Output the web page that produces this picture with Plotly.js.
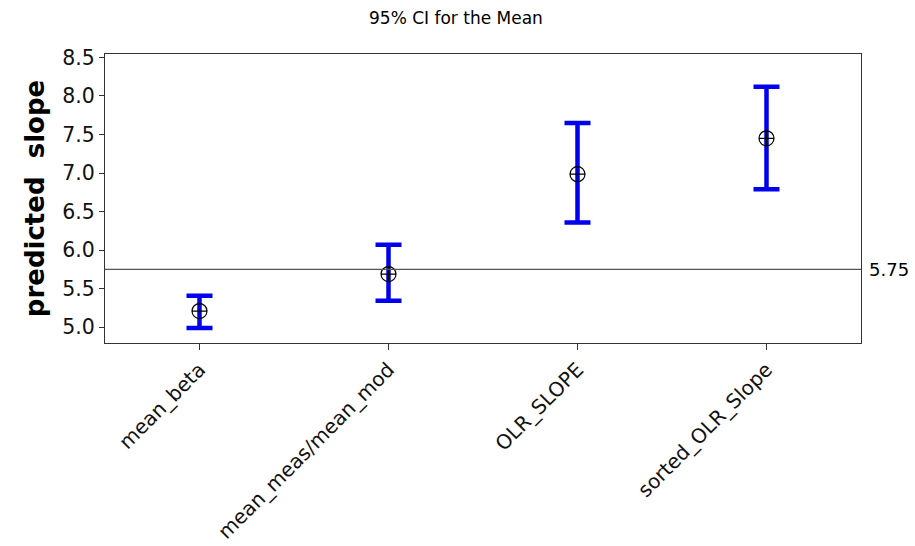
<!DOCTYPE html>
<html>
<head>
<meta charset="utf-8">
<script src="https://cdn.plot.ly/plotly-3.0.1.min.js"></script>
<style>html,body{margin:0;padding:0;background:#fff;}#chart{width:915px;height:546px;}</style>
</head>
<body>
<div id="chart"></div>
<script>
var categories = ["mean_beta", "mean_meas/mean_mod", "OLR_SLOPE", "sorted_OLR_Slope"];
var means = [5.21, 5.69, 6.985, 7.45];
var upper = [5.41, 6.07, 7.65, 8.117];
var lower = [4.99, 5.345, 6.357, 6.79];
var refValue = 5.75;
var refLabel = "5.75";
var yTicks = [5.0, 5.5, 6.0, 6.5, 7.0, 7.5, 8.0, 8.5];
var yTickText = ["5.0", "5.5", "6.0", "6.5", "7.0", "7.5", "8.0", "8.5"];

var plus = upper.map(function(u, i){ return u - means[i]; });
var minus = lower.map(function(l, i){ return means[i] - l; });
var xIdx = categories.map(function(c, i){ return i; });

var trace = {
  type: "scatter",
  mode: "markers",
  x: xIdx,
  y: means,
  marker: {symbol: "circle-cross-open", size: 15, color: "#000000", line: {width: 1.2, color: "#000000"}},
  error_y: {type: "data", symmetric: false, array: plus, arrayminus: minus, color: "#0000ee", thickness: 4.5, width: 13},
  hoverinfo: "skip",
  showlegend: false
};

var layout = {
  width: 915, height: 546,
  margin: {l: 105, r: 54, t: 54, b: 203},
  paper_bgcolor: "#ffffff",
  plot_bgcolor: "#ffffff",
  font: {family: "DejaVu Sans, Verdana, sans-serif", color: "#000"},
  xaxis: {
    range: [-0.5, 3.5],
    tickvals: xIdx,
    ticktext: categories,
    tickangle: -45,
    ticks: "outside", ticklen: 6, tickcolor: "#333",
    showgrid: false, zeroline: false,
    showline: true, linecolor: "#333", linewidth: 1, mirror: true,
    tickfont: {size: 20, family: "DejaVu Sans, sans-serif", color: "#111"}
  },
  yaxis: {
    range: [4.796, 8.543],
    tickvals: yTicks,
    ticktext: yTickText,
    ticks: "outside", ticklen: 5, tickcolor: "#333",
    showgrid: false, zeroline: false,
    showline: true, linecolor: "#333", linewidth: 1, mirror: true,
    tickfont: {size: 20.5, family: "DejaVu Sans, sans-serif", color: "#111"},
    title: {text: "<b>predicted  slope</b>", font: {size: 26, family: "DejaVu Sans, sans-serif"}, standoff: 10}
  },
  shapes: [{
    type: "line", xref: "paper", x0: 0, x1: 1, yref: "y", y0: refValue, y1: refValue,
    line: {color: "#555", width: 1.2}
  }],
  annotations: [
    {xref: "paper", x: 1, xanchor: "left", xshift: 6, yref: "y", y: refValue, yanchor: "middle",
     text: refLabel, showarrow: false, font: {size: 18, family: "DejaVu Sans, sans-serif", color: "#000"}},
    {xref: "paper", x: 0.464, xanchor: "center", yref: "paper", y: 1, yanchor: "bottom", yshift: 24,
     text: "95% CI for the Mean", showarrow: false, font: {size: 17, family: "DejaVu Sans, sans-serif", color: "#000"}}
  ]
};

Plotly.newPlot("chart", [trace], layout, {displayModeBar: false, staticPlot: true});
</script>
</body>
</html>
